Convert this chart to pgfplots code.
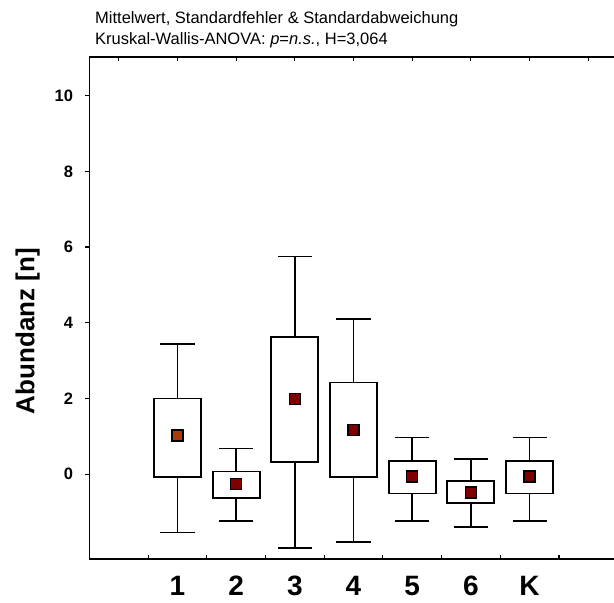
\documentclass[border=0pt]{standalone}
\usepackage{pgfplots}
\pgfplotsset{compat=1.18}
\usepgfplotslibrary{statistics}
\usepackage{fontspec}
\setmainfont{Liberation Sans}
\definecolor{meanred}{RGB}{128,0,0}
\definecolor{meanorange}{RGB}{168,60,8}
\begin{document}
\begin{tikzpicture}
\useasboundingbox (-89.5pt,-44pt) rectangle (524.5pt,559pt);
\begin{axis}[
  at={(0pt,0pt)}, anchor=south west, scale only axis,
  width=524.5pt, height=502pt,
  xmin=-0.5, xmax=8.44, ymin=-2.24, ymax=11.02,
  axis line style={draw=none},
  xtick={1,...,7}, xticklabels={1,2,3,4,5,6,K},
  x tick style={draw=none},
  x tick label style={font=\fontsize{28}{30}\selectfont\bfseries, text height=20pt, text depth=0pt, yshift=-9pt},
  ytick={0,2,...,10}, ytick pos=left,
  y tick style={line width=1.2pt,black}, tick align=outside, major tick length=4pt,
  y tick label style={font=\fontsize{16.5}{18}\selectfont\bfseries, xshift=-9pt},
  /pgf/number format/assume math mode=true,
  boxplot/draw direction=y,
  boxplot/box extend=0.8, boxplot/whisker extend=0.58,
  boxplot/draw/median/.code={},
  boxplot/every box/.style={draw=black, line width=1.8pt, fill=white},
  boxplot/every whisker/.style={draw=black, line width=1.8pt},
  clip=false,
]
\draw[line width=1.6pt] (rel axis cs:1,1) -- (rel axis cs:0,1) -- (rel axis cs:0,0) -- (rel axis cs:1,0);
\pgfplotsinvokeforeach{0,1,2,3,4,5,6,7,8}{\draw[line width=1.3pt] (axis cs:#1,11.02) -- ([yshift=-4pt]axis cs:#1,11.02);}
\pgfplotsinvokeforeach{0.5,1.5,2.5,3.5,4.5,5.5,6.5,7.5}{\draw[line width=1.3pt] (axis cs:#1,-2.24) -- ([yshift=4pt]axis cs:#1,-2.24);}

\addplot[black, line width=1.8pt, fill=white, boxplot prepared={draw position=1, lower whisker=-1.54, lower quartile=-0.07, median=1.02, upper quartile=2.0, upper whisker=3.43}] coordinates {};
\addplot[black, line width=1.8pt, fill=white, boxplot prepared={draw position=2, lower whisker=-1.24, lower quartile=-0.63, median=-0.26, upper quartile=0.07, upper whisker=0.68}] coordinates {};
\addplot[black, line width=1.8pt, fill=white, boxplot prepared={draw position=3, lower whisker=-1.94, lower quartile=0.32, median=1.98, upper quartile=3.63, upper whisker=5.75}] coordinates {};
\addplot[black, line width=1.8pt, fill=white, boxplot prepared={draw position=4, lower whisker=-1.79, lower quartile=-0.07, median=1.17, upper quartile=2.42, upper whisker=4.1}] coordinates {};
\addplot[black, line width=1.8pt, fill=white, boxplot prepared={draw position=5, lower whisker=-1.24, lower quartile=-0.51, median=-0.06, upper quartile=0.35, upper whisker=0.97}] coordinates {};
\addplot[black, line width=1.8pt, fill=white, boxplot prepared={draw position=6, lower whisker=-1.39, lower quartile=-0.77, median=-0.48, upper quartile=-0.19, upper whisker=0.41}] coordinates {};
\addplot[black, line width=1.8pt, fill=white, boxplot prepared={draw position=7, lower whisker=-1.24, lower quartile=-0.51, median=-0.06, upper quartile=0.35, upper whisker=0.97}] coordinates {};

\addplot[only marks, mark=square*, mark size=5.5pt, mark options={fill=meanorange, draw=black, line width=1.3pt}] coordinates {(1,1.02)};
\addplot[only marks, mark=square*, mark size=5.5pt, mark options={fill=meanred, draw=black, line width=1.3pt}] coordinates {(2,-0.26) (3,1.98) (4,1.17) (5,-0.06) (6,-0.48) (7,-0.06)};

\node[rotate=90, font=\fontsize{26}{28}\selectfont\bfseries] at (axis description cs:-0.118,0.454) {Abundanz [n]};
\end{axis}
\node[anchor=base west, font=\fontsize{16.5}{18}\selectfont, inner sep=0pt] at (5.5pt,535pt) {Mittelwert, Standardfehler \& Standardabweichung};
\node[anchor=base west, font=\fontsize{16.5}{18}\selectfont, inner sep=0pt] at (5.5pt,514pt) {Kruskal-Wallis-ANOVA: \textit{p}=\textit{n.s.}, H=3,064};
\end{tikzpicture}
\end{document}
